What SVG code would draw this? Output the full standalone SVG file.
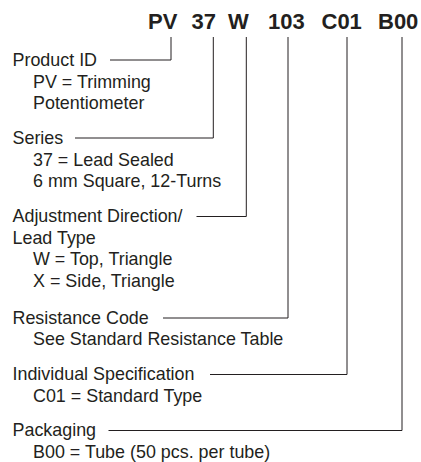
<svg xmlns="http://www.w3.org/2000/svg" width="421" height="462" viewBox="0 0 421 462">
<style>
.t{font-family:"Liberation Sans",Arial,sans-serif;font-size:17.9px;fill:#231f20}
.h{font-family:"Liberation Sans",Arial,sans-serif;font-size:22px;font-weight:bold;fill:#231f20}
.c{fill:none;stroke:#231f20;stroke-width:1}
</style>
<rect width="421" height="462" fill="#fff"/>
<g id="code">
<text class="h" x="148" y="29">PV</text>
<text class="h" x="191.5" y="29">37</text>
<text class="h" x="228" y="29">W</text>
<text class="h" x="268" y="29">103</text>
<text class="h" x="321.5" y="29">C01</text>
<text class="h" x="378" y="29">B00</text>
</g>
<g id="product-id">
<text class="t" x="12.5" y="66">Product ID</text>
<text class="t" x="33" y="87.7">PV = Trimming</text>
<text class="t" x="33" y="109.4">Potentiometer</text>
</g>
<g id="series">
<text class="t" x="12.5" y="144">Series</text>
<text class="t" x="33" y="165.7">37 = Lead Sealed</text>
<text class="t" x="33" y="187.4">6 mm Square, 12-Turns</text>
</g>
<g id="adjustment">
<text class="t" x="12.5" y="222">Adjustment Direction/</text>
<text class="t" x="12.5" y="243.7">Lead Type</text>
<text class="t" x="33" y="265.4">W = Top, Triangle</text>
<text class="t" x="33" y="287.1">X = Side, Triangle</text>
</g>
<g id="resistance">
<text class="t" x="12.5" y="323.5">Resistance Code</text>
<text class="t" x="33" y="345.2">See Standard Resistance Table</text>
</g>
<g id="individual">
<text class="t" x="12.5" y="380">Individual Specification</text>
<text class="t" x="33" y="401.7">C01 = Standard Type</text>
</g>
<g id="packaging">
<text class="t" x="12.5" y="436">Packaging</text>
<text class="t" x="33" y="457.7">B00 = Tube (50 pcs. per tube)</text>
</g>
<g id="connectors" class="c">
<polyline points="110,60 171,60 171,37"/>
<polyline points="75,138 213.3,138 213.3,37"/>
<polyline points="196.5,216.5 246.3,216.5 246.3,37"/>
<polyline points="163,318 288,318 288,37"/>
<polyline points="210,374.5 347,374.5 347,37"/>
<polyline points="108.5,430.5 402,430.5 402,37"/>
</g>
</svg>
